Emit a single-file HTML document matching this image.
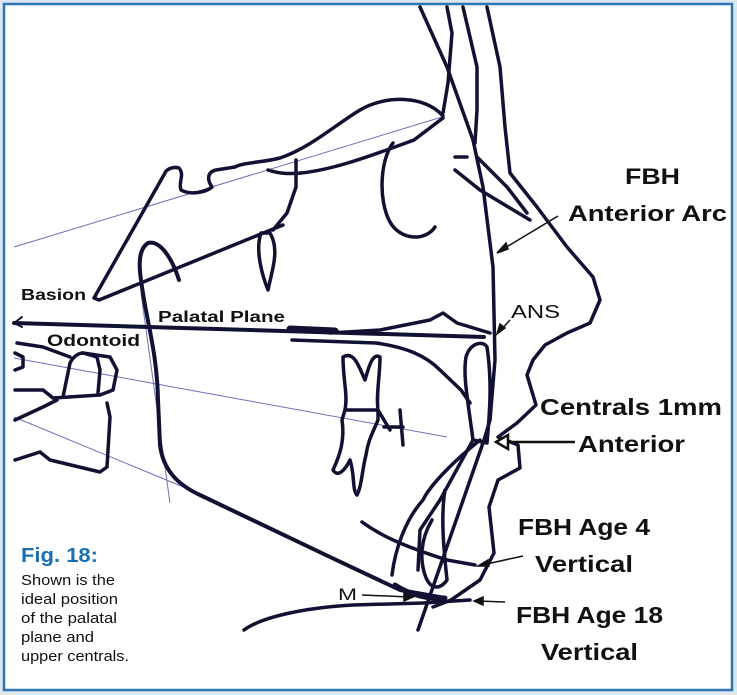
<!DOCTYPE html>
<html><head><meta charset="utf-8"><style>
html,body{margin:0;padding:0;background:#dde7ee;}
.wrap{position:relative;width:737px;height:695px;overflow:hidden;}
svg{position:absolute;left:0;top:0}
</style></head><body><div class="wrap">
<svg width="737" height="695" viewBox="0 0 737 695" xmlns="http://www.w3.org/2000/svg">
<rect x="4" y="4" width="728" height="686" fill="#fff" stroke="#2f74b5" stroke-width="2.5"/>
<g stroke="#6f6fb8" stroke-width="1" fill="none">
<line x1="14" y1="247" x2="442" y2="117"/>
<line x1="14" y1="358" x2="447" y2="437"/>
<line x1="14" y1="417" x2="210" y2="498"/>
<line x1="141" y1="293" x2="170" y2="503"/>
</g>
<g stroke="#111133" stroke-width="3.5" fill="none" stroke-linecap="round" stroke-linejoin="round">
<path d="M420,7 L447,67 L473,140 L483,187 L493,267 L495,360 L490,420 L484,440 L418,630"/>
<path d="M447,7 L452,33 L448,83 L443,113"/>
<path d="M463,7 L477,67 L477,110 L475,143"/>
<path d="M487,7 L500,67 L505,127 L510,173 L537,207 L567,247 L593,277 L600,300 L590,323 L567,333 L545,345 L533,360 L527,375 L536,405 L517,423 L498,437 L518,445 L520,468 L498,480 L489,507 L494,553 L480,580 L451,600 L433,607"/>
<path d="M455,157 L467,157"/>
<path d="M455,170 L480,190 L530,220"/>
<path d="M477,157 L507,187 L527,213"/>
<path d="M393,143 C380,160 378,200 390,222 C400,240 425,242 435,227"/>
<path d="M443,116 C425,95 385,95 360,110 C335,125 310,148 280,158 C260,163 245,162 235,167 L216,170 C207,172 207,180 212,187 C205,193 190,195 181,190 C178,182 185,175 179,168 C172,166 166,170 165,173 L94,298 L99,300 L283,225"/>
<path d="M268,170 C280,174 290,174 301,173 C330,170 360,160 414,140 L443,118"/>
<path d="M296,160 L296,187 L287,213 L273,230"/>
<path d="M261,233 C255,250 262,275 268,290 C272,270 280,250 270,233 Z"/>
<path d="M179,280 C172,258 160,240 148,243 C140,248 138,260 141,280 C146,320 157,350 158,400 L160,445 C163,470 178,485 200,495 L330,557 L400,590 L445,598" stroke-width="4"/>
<path d="M14,323 L484,337" stroke-width="4"/>
<path d="M290,329 L335,331" stroke-width="7"/>
<path d="M22,317 L14,323 L22,327" stroke-width="2"/>
<path d="M330,333 L380,330 L430,320 L443,313 L457,323 L490,333"/>
<path d="M292,340 L376,343 C405,347 425,355 440,370 L461,390 L470,403"/>
<path d="M466,357 C463,375 467,395 473,440 L487,443 C490,410 492,380 487,347 C483,340 470,343 466,357 Z"/>
<path d="M480,440 C455,460 430,485 423,500 C405,520 395,550 392,575"/>
<path d="M473,440 L440,500 L420,530 L418,570"/>
<path d="M445,490 C440,520 445,560 447,580 C440,590 430,590 425,575 C420,560 420,540 432,520"/>
<path d="M362,522 C380,535 400,545 447,560 L475,565"/>
<path d="M244,630 C260,618 300,608 353,605 L423,603 L470,600"/>
<path d="M395,585 C410,595 430,600 445,598" stroke-width="5"/>
<path d="M343,357 C343,380 348,395 345,410 L378,410 C376,395 380,375 380,357 C372,352 368,370 365,380 C360,370 355,350 343,357 Z"/>
<path d="M345,410 L342,420 C345,440 340,455 333,470 C338,478 345,470 350,460 C355,475 352,490 357,495 C362,485 362,470 366,455 C368,440 374,430 378,420 L378,410"/>
<path d="M378,410 L384,420 L390,430 M400,410 L403,445 M384,427 L403,427"/>
<path d="M17,343 L43,347 L70,357"/>
<path d="M15,353 L23,357 L23,367 L15,370"/>
<path d="M63,397 L70,363 C74,355 80,353 83,353 L97,357 L100,370 L98,393"/>
<path d="M83,353 L110,357 L117,370 L113,390 L100,395 L53,398 L43,390 L15,390"/>
<path d="M15,420 L43,407 L57,400"/>
<path d="M107,403 L110,417 L107,467 L100,472 L50,460 L40,452 L15,460"/>
</g>
<g stroke="#111" stroke-width="1.5" fill="#111">
<line x1="558" y1="216" x2="500" y2="251"/><path d="M497,253 L506,243 L508,249 Z"/>
<line x1="510" y1="320" x2="500" y2="331"/><path d="M497,334 L500,324 L505,328 Z"/>
<line x1="575" y1="442" x2="500" y2="442" stroke-width="2.5"/><path d="M496,442 L508,435 L508,449 Z" fill="#fff" stroke-width="2.5"/>
<line x1="523" y1="556" x2="482" y2="565"/><path d="M478,566 L488,560 L489,566 Z"/>
<line x1="362" y1="595" x2="410" y2="597"/><path d="M413,597 L404,593 L404,601 Z"/>
<line x1="505" y1="602" x2="478" y2="601"/><path d="M474,601 L483,597 L483,605 Z"/>
</g>
<g font-family="Liberation Sans, sans-serif" fill="#111" font-weight="bold" lengthAdjust="spacingAndGlyphs">
<text x="625" y="184" font-size="22" textLength="55" lengthAdjust="spacingAndGlyphs">FBH</text>
<text x="568" y="221" font-size="22" textLength="159" lengthAdjust="spacingAndGlyphs">Anterior Arc</text>
<text x="21" y="300" font-size="16" textLength="65" lengthAdjust="spacingAndGlyphs">Basion</text>
<text x="158" y="322" font-size="16" textLength="127" lengthAdjust="spacingAndGlyphs">Palatal Plane</text>
<text x="511" y="318" font-size="18" font-weight="normal" textLength="49" lengthAdjust="spacingAndGlyphs">ANS</text>
<text x="47" y="346" font-size="17" textLength="93" lengthAdjust="spacingAndGlyphs">Odontoid</text>
<text x="540" y="415" font-size="23" textLength="182" lengthAdjust="spacingAndGlyphs">Centrals 1mm</text>
<text x="578" y="452" font-size="23" textLength="107" lengthAdjust="spacingAndGlyphs">Anterior</text>
<text x="518" y="535" font-size="23" textLength="132" lengthAdjust="spacingAndGlyphs">FBH Age 4</text>
<text x="535" y="572" font-size="23" textLength="98" lengthAdjust="spacingAndGlyphs">Vertical</text>
<text x="338" y="600" font-size="17" font-weight="normal" textLength="19" lengthAdjust="spacingAndGlyphs">M</text>
<text x="516" y="623" font-size="23" textLength="147" lengthAdjust="spacingAndGlyphs">FBH Age 18</text>
<text x="541" y="660" font-size="23" textLength="97" lengthAdjust="spacingAndGlyphs">Vertical</text>
<text x="21" y="562" font-size="20" fill="#1a6fb0" textLength="77" lengthAdjust="spacingAndGlyphs">Fig. 18:</text>
<g font-weight="normal" font-size="15">
<text x="21" y="585" textLength="94" lengthAdjust="spacingAndGlyphs">Shown is the</text>
<text x="21" y="604" textLength="97" lengthAdjust="spacingAndGlyphs">ideal position</text>
<text x="21" y="623" textLength="96" lengthAdjust="spacingAndGlyphs">of the palatal</text>
<text x="21" y="642" textLength="73" lengthAdjust="spacingAndGlyphs">plane and</text>
<text x="21" y="661" textLength="108" lengthAdjust="spacingAndGlyphs">upper centrals.</text>
</g>
</g>
</svg>
</div></body></html>
